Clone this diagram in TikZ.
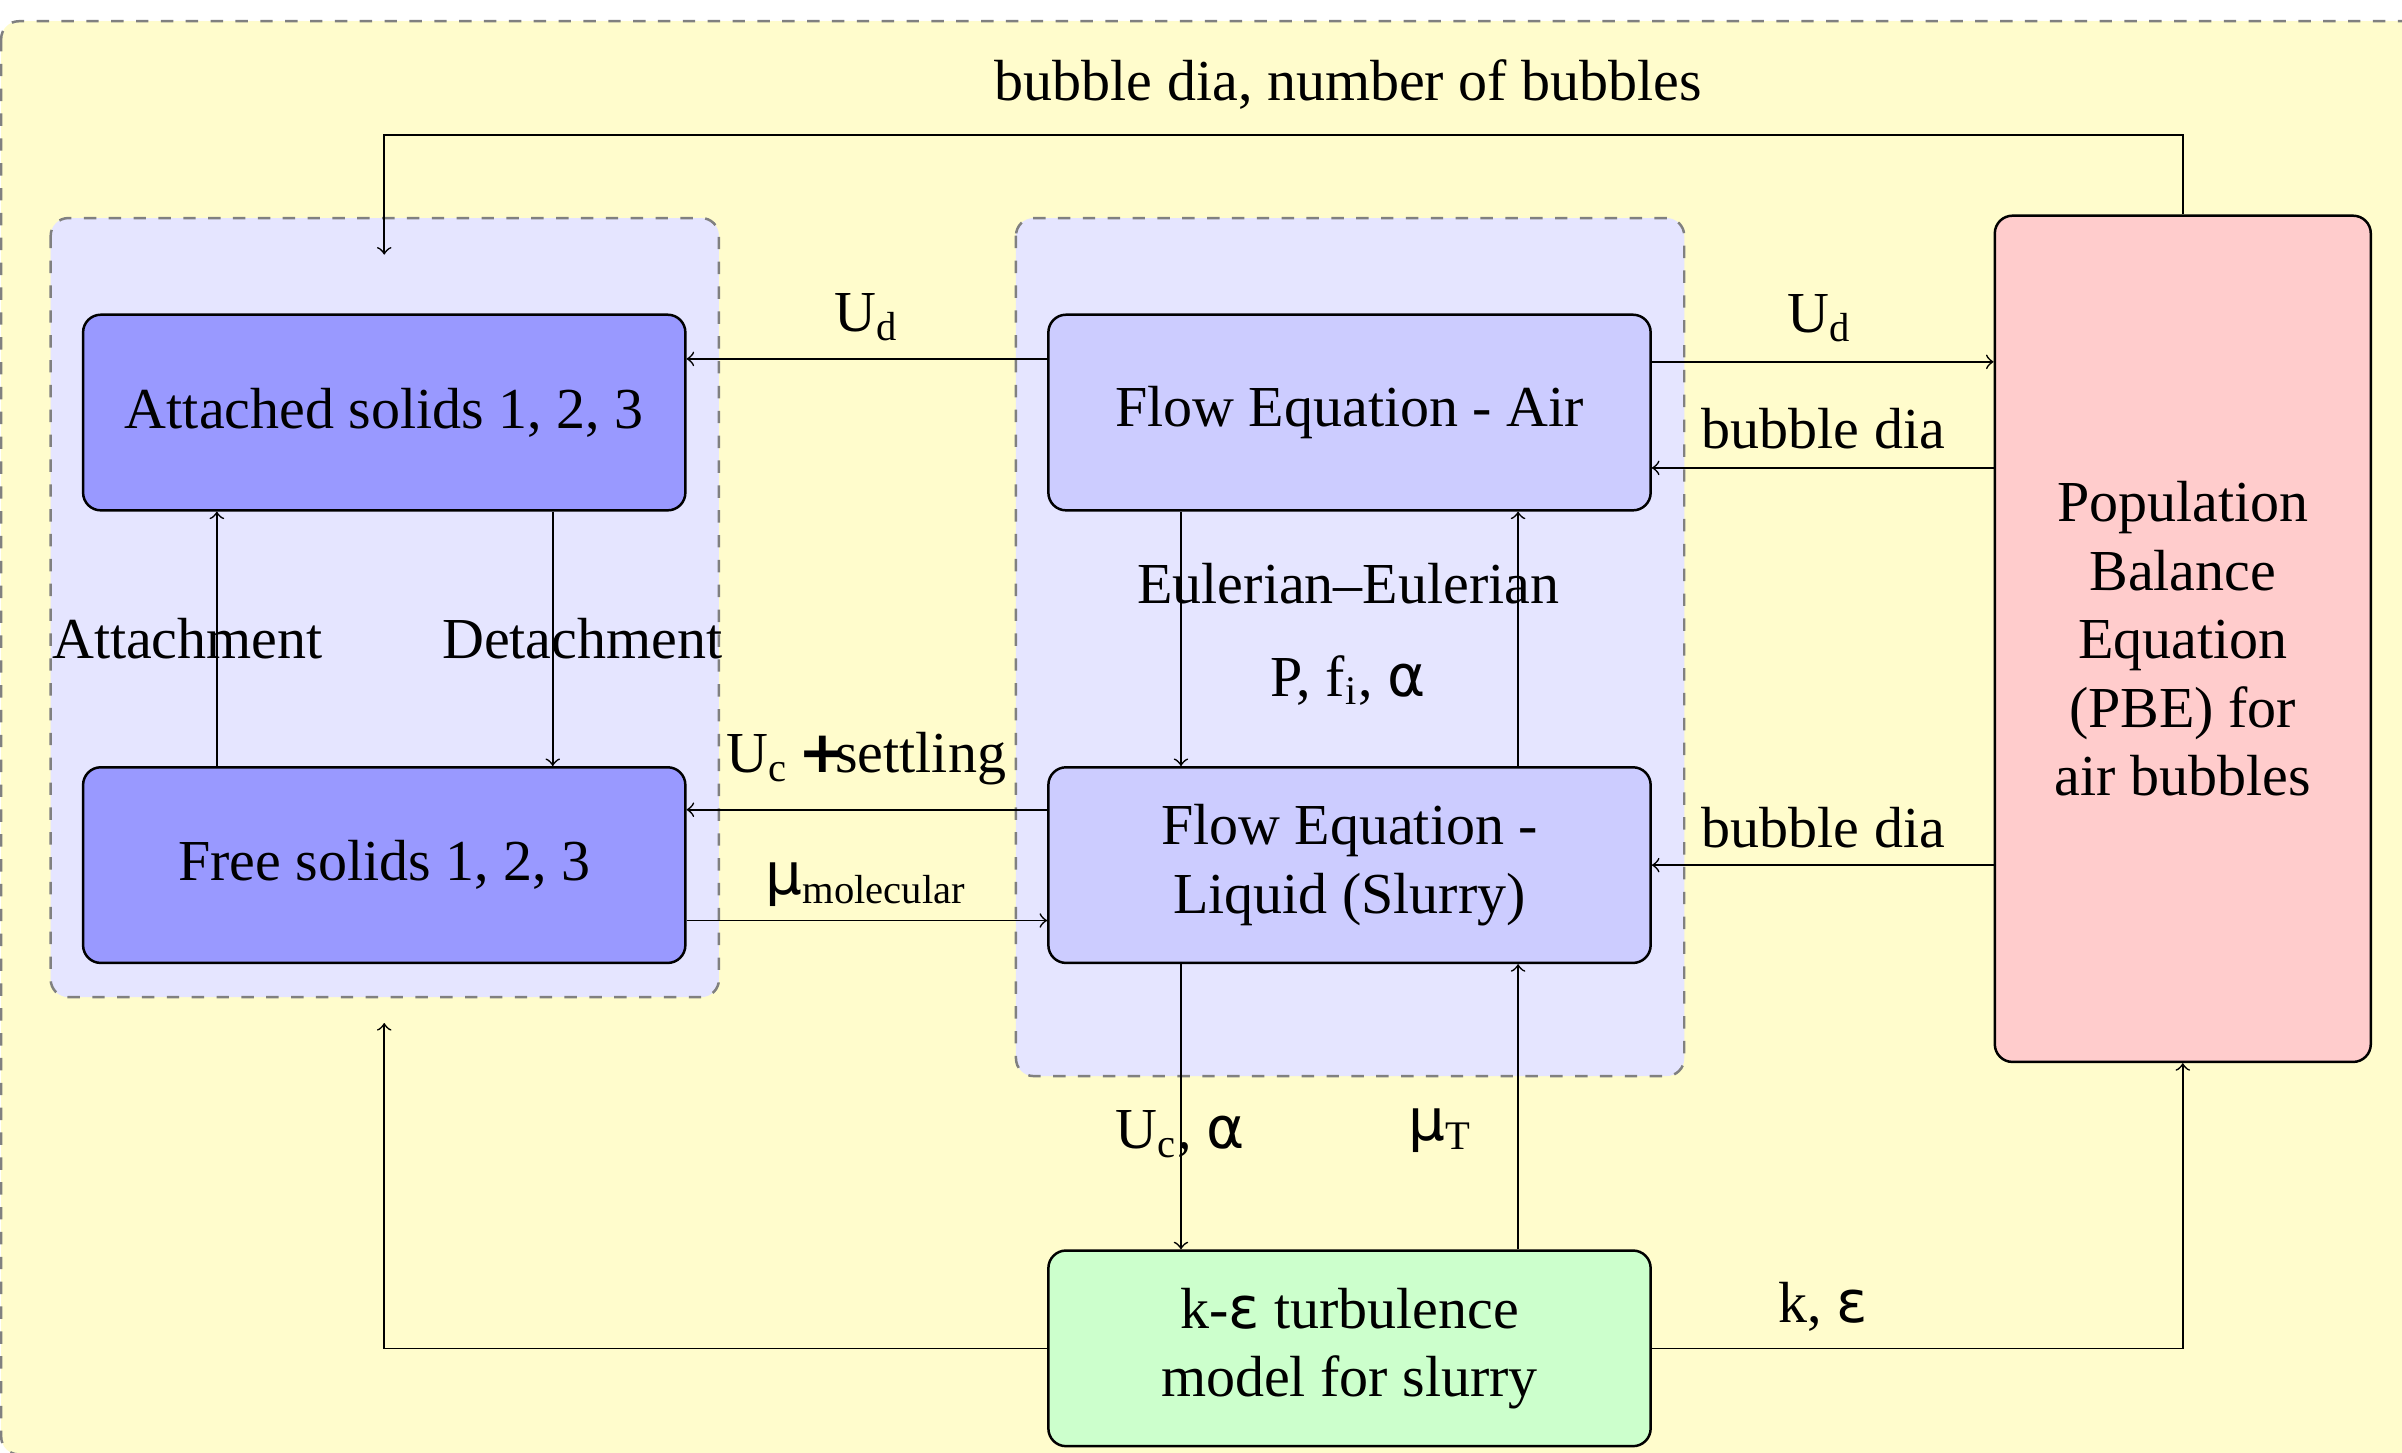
\documentclass[tikz,border=0pt]{standalone}
\usepackage{fontspec}
\setmainfont{Liberation Serif}
\newfontfamily\greekfont{DejaVu Sans}
\newcommand{\gk}[1]{{\greekfont #1}}

\begin{document}
\begin{tikzpicture}[
font=\fontsize{14}{16.5}\selectfont,
box/.style={
draw,
semithick,
rounded corners=0.15cm,
align=center,
minimum width=5.11cm,
minimum height=1.66cm
},
group/.style={
draw=gray,
dashed,
semithick,
fill=blue!10,
rounded corners=0.15cm
}
]

\useasboundingbox (0,0) rectangle (20.38,-12.32);
\draw[dashed, draw=gray, semithick, fill=yellow!20, rounded corners=0.15cm]
(0.01,-0.18) rectangle (20.7,-12.34);

\draw[group] (0.43,-1.85) rectangle (6.10,-8.46);
\draw[group] (8.62,-1.85) rectangle (14.29,-9.13);

\node[box, fill=blue!40] (att) at (3.26,-3.50)
{Attached solids 1, 2, 3};

\node[box, fill=blue!40] (free) at (3.26,-7.34)
{Free solids 1, 2, 3};

\node[box, fill=blue!20] (air) at (11.45,-3.50)
{Flow Equation - Air};

\node[box, fill=blue!20] (liq) at (11.45,-7.34)
{Flow Equation -\\Liquid (Slurry)};

\node[box, fill=green!20] (turb) at (11.45,-11.44)
{k-\gk{ε} turbulence\\model for slurry};

\node[box, fill=red!20, minimum width=3.19cm, minimum height=7.18cm] (pbe) at (18.52,-5.42)
{Population\\Balance\\Equation\\(PBE) for\\air bubbles};

\node (lbubnum) at (11.44,-0.715) {bubble dia, number of bubbles};
\node (ludl) at (7.35,-2.69) {U\textsubscript{d}};
\node (ludr) at (15.44,-2.70) {U\textsubscript{d}};
\node (lbubair) at (15.47,-3.64) {bubble dia};
\node (lbubliq) at (15.47,-7.02) {bubble dia};
\node (lsettle) at (7.35,-6.44) {U\textsubscript{c}\,{\greekfont\bfseries +}\kern-0.2em settling};
\node (lmol) at (7.35,-7.51) {\gk{μ}\textsubscript{molecular}};
\node (leuler) at (11.44,-4.95) {Eulerian--Eulerian};
\node (lpfa) at (11.44,-5.77) {P, f\textsubscript{i}, \gk{α}};
\node (lattach) at (1.59,-5.42) {Attachment};
\node (ldetach) at (4.94,-5.42) {Detachment};
\node (luca) at (10.01,-9.62) {U\textsubscript{c}, \gk{α}};
\node (lmut) at (12.22,-9.59) {\gk{μ}\textsubscript{T}};
\node (lke) at (15.47,-11.09) {k, \gk{ε}};

\coordinate (solidsin) at (3.26,-8.68);
\coordinate (topbend) at (3.26,-1.144);
\coordinate (solidstop) at (3.26,-2.16);

\draw[->] ([yshift=0.455cm]air.west) -- ([yshift=0.455cm]att.east);
\draw[->] ([yshift=0.43cm]air.east) -- ([yshift=0.43cm]pbe.west |- air.east);
\draw[->] ([yshift=-0.47cm]pbe.west |- air.east) -- ([yshift=-0.47cm]air.east);
\draw[->] (pbe.west |- liq.east) -- (liq.east);
\draw[->] ([yshift=0.47cm]liq.west) -- ([yshift=0.47cm]free.east);
\draw[->] ([yshift=-0.47cm]free.east) -- ([yshift=-0.47cm]liq.west);

\draw[->] ([xshift=-1.43cm]air.south) -- ([xshift=-1.43cm]liq.north);
\draw[->] ([xshift=1.43cm]liq.north) -- ([xshift=1.43cm]air.south);
\draw[->] ([xshift=-1.43cm]liq.south) -- ([xshift=-1.43cm]turb.north);
\draw[->] ([xshift=1.43cm]turb.north) -- ([xshift=1.43cm]liq.south);
\draw[->] ([xshift=-1.42cm]free.north) -- ([xshift=-1.42cm]att.south);
\draw[->] ([xshift=1.43cm]att.south) -- ([xshift=1.43cm]free.north);

\draw[->] (turb.west) -| (solidsin);
\draw[->] (turb.east) -| (pbe.south);
\draw[->] (pbe.north) |- (topbend) -- (solidstop);

\end{tikzpicture}
\end{document}
